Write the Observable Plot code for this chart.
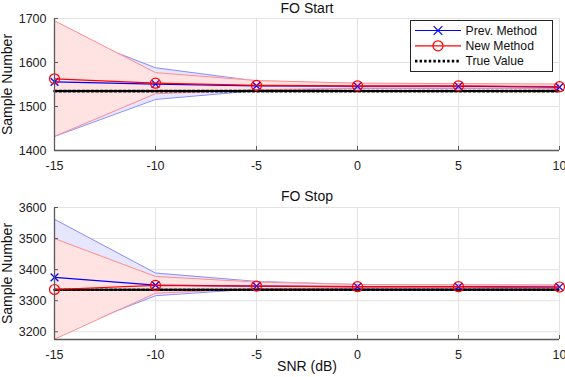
<!DOCTYPE html>
<html>
<head>
<meta charset="utf-8">
<script src="https://cdn.jsdelivr.net/npm/d3@7"></script>
<script src="https://cdn.jsdelivr.net/npm/@observablehq/plot@0.6"></script>
<style>
  html, body { margin: 0; padding: 0; background: #fff; }
  #wrap { position: relative; width: 565px; height: 377px; font-family: "Liberation Sans", Arial, sans-serif; }
  #wrap > div { position: absolute; left: 0; }
  svg { overflow: visible; }
</style>
</head>
<body>
<div id="wrap">
  <div id="top" style="top:0px"></div>
  <div id="bottom" style="top:188px"></div>
  <div id="legend" style="top:0px"></div>
</div>
<script>
// ---------- data ----------
const snr = [-15, -10, -5, 0, 5, 10];
const xTicks = [-15, -10, -5, 0, 5, 10];

// FO Start
const startPrev   = [1556, 1551, 1547, 1546, 1546, 1544];
const startNew    = [1563, 1553, 1548, 1547, 1547, 1545];
const startTrue   = [1535, 1535, 1535, 1535, 1535, 1535];
const startPrevHi = [1677, 1588, 1558, 1552, 1551, 1549];
const startPrevLo = [1432, 1516, 1536, 1541, 1541, 1540];
const startNewHi  = [1695, 1577, 1559, 1553, 1552, 1551];
const startNewLo  = [1432, 1529, 1538, 1542, 1542, 1541];
const startYTicks = [1400, 1500, 1600, 1700];

// FO Stop
const stopPrev   = [3375, 3350, 3347, 3345, 3345, 3344];
const stopNew    = [3336, 3349, 3347, 3345, 3345, 3344];
const stopTrue   = [3335, 3335, 3335, 3335, 3335, 3335];
const stopPrevHi = [3562, 3389, 3362, 3352, 3351, 3350];
const stopPrevLo = [3190, 3316, 3338, 3340, 3340, 3339];
const stopNewHi  = [3500, 3378, 3360, 3352, 3351, 3350];
const stopNewLo  = [3176, 3324, 3339, 3341, 3341, 3340];
const stopYTicks = [3200, 3300, 3400, 3500, 3600];

const seriesNames = ["Prev. Method", "New Method", "True Value"];

// ---------- styles ----------
const FONT = "Liberation Sans, Arial, sans-serif";
const BLUE = "#0000ff", RED = "#ff0000";
const BLUE_FILL = "#e6e6ff", RED_FILL = "#ffe3e3";
const BLUE_EDGE = "#8c8cff", RED_EDGE = "#ff8c8c";

function rows(prev, nw, tr, pHi, pLo, nHi, nLo) {
  return snr.map((x, i) => ({x, prev: prev[i], nw: nw[i], tr: tr[i],
    pHi: pHi[i], pLo: pLo[i], nHi: nHi[i], nLo: nLo[i]}));
}

function panel({title, data, yDomain, yTicks, height, marginTop, marginBottom, xLabel, titleDy}) {
  const marks = [
    Plot.gridX(xTicks, {stroke: "#e3e3e3", strokeOpacity: 1}),
    Plot.gridY(yTicks, {stroke: "#e3e3e3", strokeOpacity: 1}),
    Plot.areaY(data, {x: "x", y1: "pLo", y2: "pHi", fill: BLUE_FILL, fillOpacity: 1, clip: true}),
    Plot.line(data, {x: "x", y: "pHi", stroke: BLUE_EDGE, strokeWidth: 1, clip: true}),
    Plot.line(data, {x: "x", y: "pLo", stroke: BLUE_EDGE, strokeWidth: 1, clip: true}),
    Plot.areaY(data, {x: "x", y1: "nLo", y2: "nHi", fill: RED_FILL, fillOpacity: 1, clip: true}),
    Plot.line(data, {x: "x", y: "nHi", stroke: RED_EDGE, strokeWidth: 1, clip: true}),
    Plot.line(data, {x: "x", y: "nLo", stroke: RED_EDGE, strokeWidth: 1, clip: true}),
    Plot.line(data, {x: "x", y: "tr", stroke: "#000", strokeWidth: 2.6, strokeDasharray: "2.4,2.2"}),
    Plot.line(data, {x: "x", y: "prev", stroke: BLUE, strokeWidth: 1.2}),
    Plot.dot(data, {x: "x", y: "prev", symbol: "times", r: 3.6, stroke: BLUE, strokeWidth: 1.2}),
    Plot.line(data, {x: "x", y: "nw", stroke: RED, strokeWidth: 1.2}),
    Plot.dot(data, {x: "x", y: "nw", symbol: "circle", r: 5, stroke: RED, fill: "none", strokeWidth: 1.2}),
    Plot.ruleY([yDomain[0]], {stroke: "#5a5a5a", strokeWidth: 1.3}),
    Plot.ruleX([xTicks[0]], {stroke: "#5a5a5a", strokeWidth: 1.3}),
    Plot.axisX(xTicks, {tickSize: -4, tickPadding: 15, stroke: "#5a5a5a", fontSize: 12.5, fill: "#222", label: null, tickFormat: d => String(d)}),
    Plot.axisY(yTicks, {tickSize: -4, tickPadding: 12, stroke: "#5a5a5a", fontSize: 12.5, fill: "#222", label: null, tickFormat: d => String(d)}),
    Plot.text([title], {frameAnchor: "top", dy: titleDy, lineAnchor: "middle", textAnchor: "middle", fontSize: 14, fill: "#111"}),
    Plot.text(["Sample Number"], {frameAnchor: "left", dx: -47, rotate: -90, textAnchor: "middle", lineAnchor: "middle", fontSize: 14, fill: "#111"})
  ];
  if (xLabel) marks.push(Plot.text([xLabel], {frameAnchor: "bottom", dy: 27, lineAnchor: "middle", textAnchor: "middle", fontSize: 14, fill: "#111"}));
  return Plot.plot({
    width: 565, height,
    marginLeft: 54, marginRight: 6, marginTop, marginBottom,
    style: {fontFamily: FONT, background: "transparent"},
    x: {domain: [-15, 10], label: null},
    y: {domain: yDomain, label: null},
    marks
  });
}

const topData = rows(startPrev, startNew, startTrue, startPrevHi, startPrevLo, startNewHi, startNewLo);
const botData = rows(stopPrev, stopNew, stopTrue, stopPrevHi, stopPrevLo, stopNewHi, stopNewLo);

document.getElementById("top").append(panel({
  title: "FO Start", data: topData, yDomain: [1400, 1700], yTicks: startYTicks,
  height: 186, marginTop: 18, marginBottom: 36, titleDy: -10
}));
document.getElementById("bottom").append(panel({
  title: "FO Stop", data: botData, yDomain: [3175, 3600], yTicks: stopYTicks,
  height: 189, marginTop: 19, marginBottom: 38, xLabel: "SNR (dB)", titleDy: -11
}));

// ---------- legend ----------
const lg = d3.select("#legend").append("svg")
  .attr("width", 565).attr("height", 80)
  .style("font-family", FONT);
lg.append("rect").attr("x", 410.5).attr("y", 20.5).attr("width", 142).attr("height", 51)
  .attr("fill", "#fff").attr("stroke", "#262626").attr("stroke-width", 1);
const legendStyles = [
  {stroke: BLUE, dash: null, width: 1.2, marker: "x"},
  {stroke: RED, dash: null, width: 1.2, marker: "o"},
  {stroke: "#000", dash: "2.4,2.2", width: 2.6, marker: null}
];
seriesNames.forEach((name, i) => {
  const y = 30.5 + i * 15.3;
  const s = legendStyles[i];
  lg.append("line").attr("x1", 415).attr("x2", 461).attr("y1", y).attr("y2", y)
    .attr("stroke", s.stroke).attr("stroke-width", s.width).attr("stroke-dasharray", s.dash);
  if (s.marker === "x") {
    lg.append("path").attr("d", d3.symbol(d3.symbolTimes, 50)())
      .attr("transform", `translate(438,${y})`).attr("stroke", BLUE).attr("stroke-width", 1.2).attr("fill", "none");
  } else if (s.marker === "o") {
    lg.append("circle").attr("cx", 438).attr("cy", y).attr("r", 5)
      .attr("stroke", RED).attr("stroke-width", 1.2).attr("fill", "none");
  }
  lg.append("text").attr("x", 465.5).attr("y", y).attr("dy", "0.35em")
    .attr("font-size", 12.2).attr("fill", "#111").text(name);
});
</script>
</body>
</html>
